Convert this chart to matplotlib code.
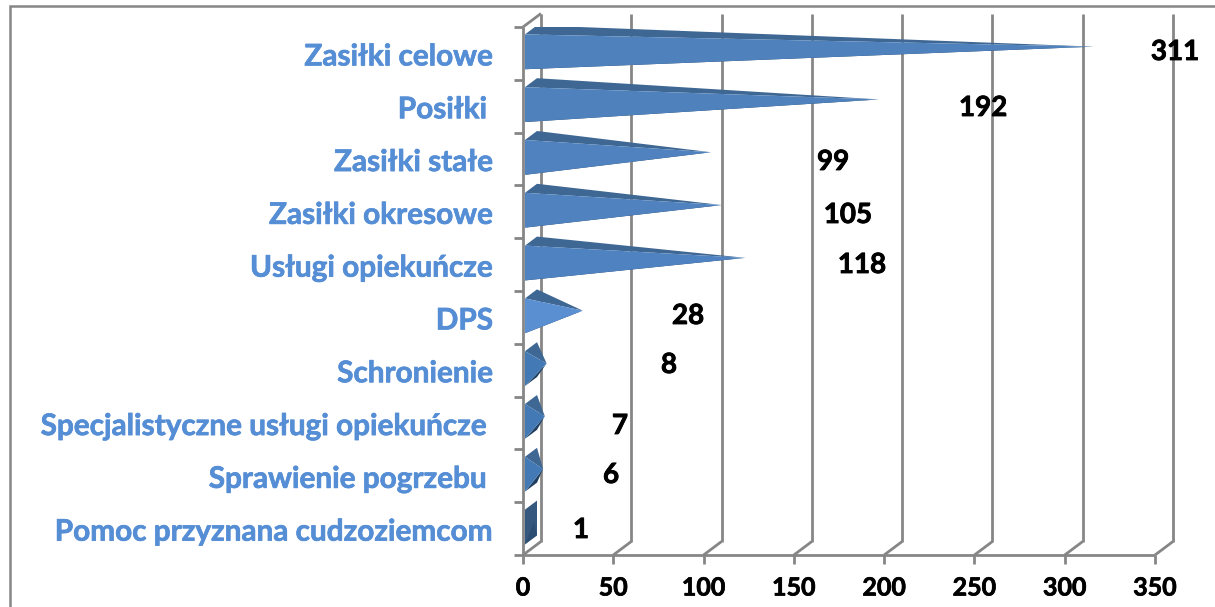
#!/usr/bin/python

import matplotlib
matplotlib.use("Agg")
import matplotlib.pyplot as plt
import matplotlib.patheffects as pe
from matplotlib.patches import Polygon, Rectangle

categories = ["Zasiłki celowe", "Posiłki ", "Zasiłki stałe", "Zasiłki okresowe",
              "Usługi opiekuńcze", "DPS", "Schronienie",
              "Specjalistyczne usługi opiekuńcze ", "Sprawienie pogrzebu ",
              "Pomoc przyznana cudzoziemcom"]
values = [311, 192, 99, 105, 118, 28, 8, 7, 6, 1]
xticks = [0, 50, 100, 150, 200, 250, 300, 350]

# fill colours of front face, one per bar
frontColors = ["#4F81BD", "#4F81BD", "#4F82BF", "#4F82BF", "#4F82C0",
               "#5A8FD2", "#437AB5", "#437AB5", "#437AB5", "#35587F"]
topColor = "#3E6793"
darkColor = "#203F60"

# data labels were moved by hand in the original: pixel position of each one
labelPos = [(1175, 52), (983, 108), (833, 162), (848, 215), (862, 265),
            (688, 316), (669, 365), (620, 426), (611, 475), (581, 530)]
# right edge of category labels
catRight = 493

W, H = 1215, 607
GRID = "#868686"
BLUE = "#558ED5"
FONT = "Lato"

# Lato bold is a bit thinner than the original's font
thicken = lambda c, w: [pe.withStroke(linewidth=w, foreground=c)]

fig = plt.figure(figsize=(W / 100.0, H / 100.0), dpi=100)
fig.patch.set_facecolor("white")

# axes = the front plane of the 3D box
X0, X1, Y0, Y1 = 523.0, 1155.0, 555.0, 27.0
ax = fig.add_axes([X0 / W, 1 - Y0 / H, (X1 - X0) / W, (Y0 - Y1) / H])
ax.set_xlim(0, 350)
ax.set_ylim(len(categories), 0)
ax.axis("off")

# depth of the box in data units
pxX = (X1 - X0) / 350.0
pxY = (Y0 - Y1) / len(categories)
depthX = 18.0 / pxX
depthY = 13.5 / pxY

def line(xs, ys, lw=2.0):
    ax.plot(xs, ys, color=GRID, lw=lw, clip_on=False, solid_capstyle="butt", zorder=1)

# outer frame
fig.add_artist(Rectangle((10.0 / W, -0.1), (W + 20.0) / W, 1.1 - 6.0 / H, fill=False,
                         edgecolor="#868686", lw=1.8, transform=fig.transFigure))

# walls and floor
n = len(categories)
for t in xticks:
    line([t + depthX, t + depthX], [-depthY, n - depthY])
    line([t, t + depthX], [n, n - depthY])
    line([t, t], [n, n + 9.0 / pxY])
line([0, 0], [0, n])
line([0, depthX], [0, -depthY])
line([-9.0 / pxX, 350], [n, n])
for i in range(n):
    line([-9.0 / pxX, 0], [i, i])

# pyramids
for i, v in enumerate(values):
    left = 2.0 / pxX
    y1 = i + 0.14
    y2 = i + 0.80
    backX = left + 12.0 / pxX
    backY = 9.0 / pxY
    a = (left, y1)
    b = (left, y2)
    c = (backX, y1 - backY)
    d = (backX, y2 - backY)
    tip = (v + depthX / 2 + 0.1, (y1 + y2) / 2 - depthY / 2 + 0.03)
    if v < 3:
        ax.add_patch(Polygon([a, b, d, c], closed=True, fc=frontColors[i], ec="none", zorder=3))
        ax.add_patch(Polygon([b, d, tip], closed=True, fc=darkColor, ec="none", alpha=0.4, zorder=3))
        continue
    ax.add_patch(Polygon([b, d, tip], closed=True, fc=darkColor, ec="none", zorder=3))
    ax.add_patch(Polygon([a, c, tip], closed=True, fc=topColor, ec="none", zorder=4))
    ax.add_patch(Polygon([a, b, tip], closed=True, fc=frontColors[i], ec="none", zorder=5))

# category labels
for i, name in enumerate(categories):
    y = i + 0.52
    right = catRight - 6 * (name != name.rstrip())
    fig.text(right / float(W), 1 - (Y1 + y * pxY + 2) / H, name.rstrip(), ha="right", va="center",
             color=BLUE, fontsize=21.4, fontweight="bold", family=FONT,
             path_effects=thicken(BLUE, 0.5))

# data labels
for (px, py), v in zip(labelPos, values):
    fig.text(px / float(W), 1 - py / float(H), str(v), ha="center", va="center",
             color="black", fontsize=20, fontweight="bold", family=FONT,
             path_effects=thicken("black", 0.6))

# x tick labels
for t in xticks:
    ax.text(t, n + 33.0 / pxY, str(t), ha="center", va="center", clip_on=False,
            color="black", fontsize=18, fontweight="bold", family=FONT,
            path_effects=thicken("black", 0.5))

fig.savefig("out.png", dpi=100)
